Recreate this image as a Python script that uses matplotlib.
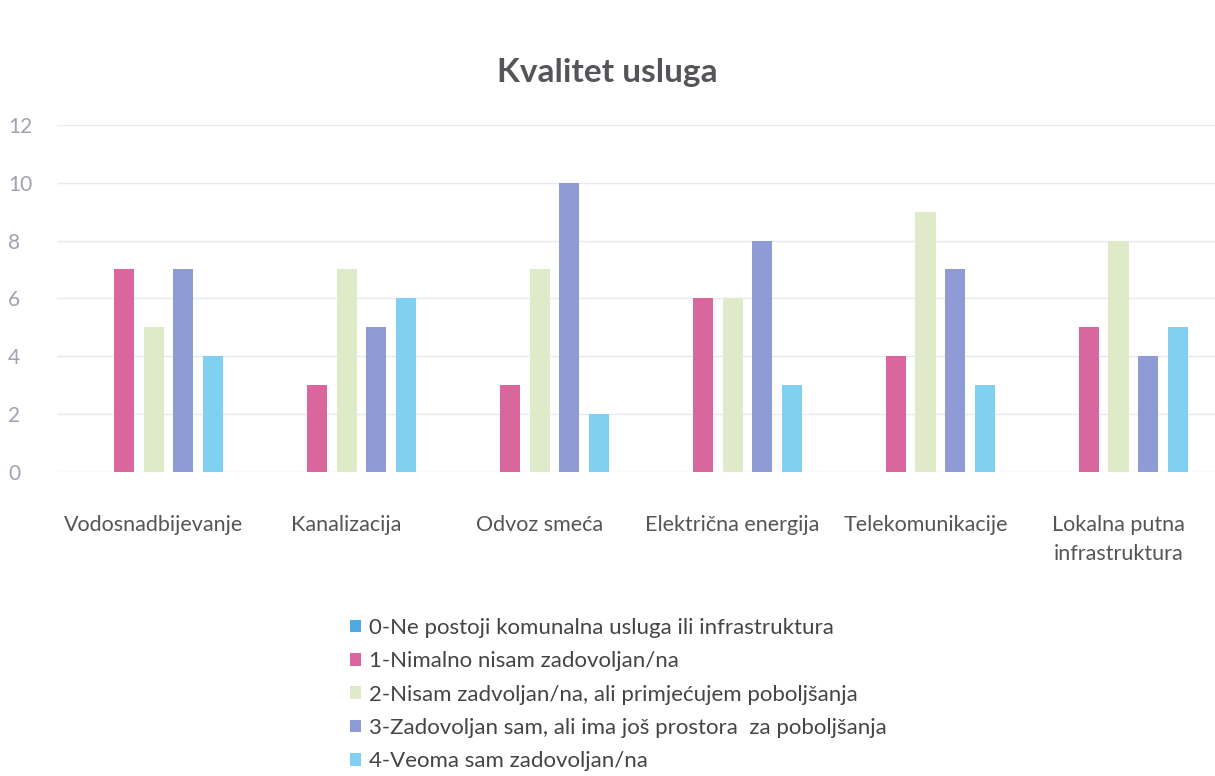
import matplotlib.pyplot as plt
import numpy as np

plt.rcParams['font.family'] = ['Lato', 'DejaVu Sans']

kategorije = ['Vodosnadbijevanje', 'Kanalizacija', 'Odvoz smeća', 'Električna energija',
              'Telekomunikacije', 'Lokalna putna\ninfrastruktura']
serije = ['0-Ne postoji komunalna usluga ili infrastruktura',
          '1-Nimalno nisam zadovoljan/na',
          '2-Nisam zadvoljan/na, ali primjećujem poboljšanja',
          '3-Zadovoljan sam, ali ima još prostora  za poboljšanja',
          '4-Veoma sam zadovoljan/na']
ocjena0 = [0, 0, 0, 0, 0, 0]
ocjena1 = [7, 3, 3, 6, 4, 5]
ocjena2 = [5, 7, 7, 6, 9, 8]
ocjena3 = [7, 5, 10, 8, 7, 4]
ocjena4 = [4, 6, 2, 3, 3, 5]
boje = ['#4fa9e2', '#d9679e', '#dfeac8', '#8e9bd4', '#80d0f2']

vrijednosti = [ocjena0, ocjena1, ocjena2, ocjena3, ocjena4]

fig = plt.figure(figsize=(12.15, 7.76), dpi=100)
ax = fig.add_axes([0.047, 0.392, 0.953, 0.447])

x = np.arange(len(kategorije))
korak = 0.153
sirina = 0.104
rukovanja = []
for i, (v, b) in enumerate(zip(vrijednosti, boje)):
    r = ax.bar(x + (i - 2) * korak, v, width=sirina, color=b, label=serije[i], zorder=3)
    rukovanja.append(r)

ax.set_xlim(-0.5, len(kategorije) - 0.5)
ax.set_ylim(0, 12)
ax.set_yticks(range(0, 13, 2))
ax.grid(axis='y', color='#e8eaf0', linewidth=1, zorder=0)
for s in ax.spines.values():
    s.set_visible(False)
ax.tick_params(axis='both', length=0)
ax.tick_params(axis='y', labelsize=15, labelcolor='#a0a2b0')
ax.set_xticks(x)
ax.set_xticklabels(kategorije, fontsize=15.5, color='#555555', linespacing=1.55, va='top')
ax.tick_params(axis='x', pad=31)
for t in ax.get_yticklabels():
    t.set_horizontalalignment('left')
    t.set_x(-0.038)

fig.text(0.5, 0.906, 'Kvalitet usluga', ha='center', va='center',
         fontsize=24, fontweight='bold', color='#555559')

fig.legend(handles=rukovanja, loc='upper left', bbox_to_anchor=(0.279, 0.218),
           frameon=False, fontsize=16, labelcolor='#444444', handlelength=0.5,
           handleheight=0.5, handletextpad=0.35, labelspacing=0.6, borderpad=0)

fig.savefig('out.png', dpi=100, facecolor='white')
